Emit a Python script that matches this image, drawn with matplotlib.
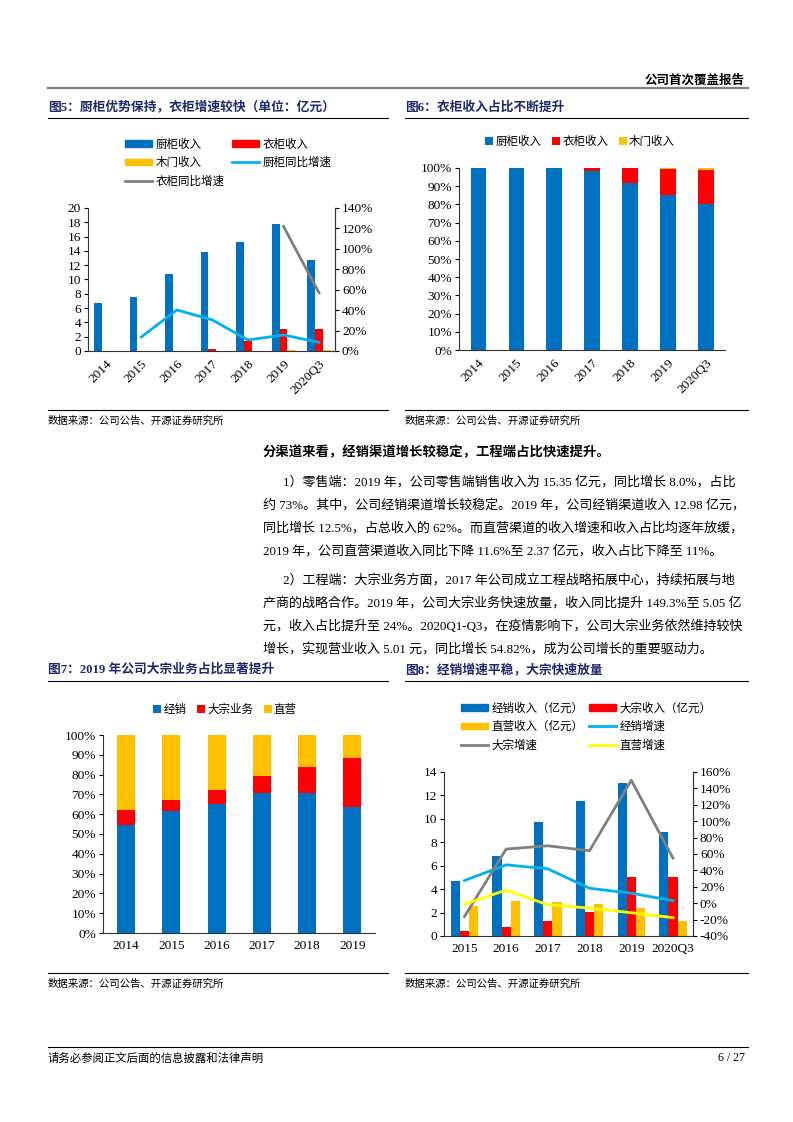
import numpy as np
import matplotlib.pyplot as plt
from matplotlib.patches import Patch
from matplotlib.lines import Line2D
from matplotlib.ticker import FuncFormatter

plt.rcParams['font.family'] = ['Liberation Serif', 'Noto Sans CJK SC']
plt.rcParams['axes.unicode_minus'] = False

# ---- data ----
years5 = ['2014', '2015', '2016', '2017', '2018', '2019', '2020Q3']
kitchen_rev = [6.7, 7.6, 10.75, 13.8, 15.3, 17.8, 12.7]
wardrobe_rev = [0.0, 0.0, 0.05, 0.28, 1.4, 3.05, 3.05]
door_rev = [0.0, 0.0, 0.0, 0.0, 0.05, 0.1, 0.15]
kitchen_growth = [np.nan, 13.7, 40.2, 30.4, 10.8, 15.7, 8.5]
wardrobe_growth = [np.nan, np.nan, np.nan, np.nan, np.nan, 122.0, 57.0]

kitchen_share = [100, 100, 99.9, 98.5, 91.8, 85.2, 80.0]
wardrobe_share = [0, 0, 0.1, 1.5, 8.2, 14.4, 19.1]
door_share = [0, 0, 0, 0, 0, 0.4, 0.9]

years7 = ['2014', '2015', '2016', '2017', '2018', '2019']
dealer_share = [54.4, 61.5, 65.4, 70.6, 70.9, 63.7]
bulk_share = [7.8, 5.6, 6.9, 8.8, 12.7, 24.6]
direct_share = [37.8, 32.9, 27.7, 20.6, 16.4, 11.7]

years8 = ['2015', '2016', '2017', '2018', '2019', '2020Q3']
dealer_rev = [4.7, 6.84, 9.72, 11.55, 13.03, 8.84]
bulk_rev = [0.43, 0.74, 1.25, 2.02, 5.07, 5.05]
direct_rev = [2.54, 2.97, 2.91, 2.71, 2.4, 1.25]
dealer_growth = [27.6, 46.8, 41.9, 18.2, 12.2, 3.0]
bulk_growth = [-16.4, 66.0, 70.0, 64.0, 150.0, 55.0]
direct_growth = [-1.3, 16.0, -2.0, -6.0, -11.6, -17.6]

BLUE, RED, YELLOW = '#0070C0', '#FF0000', '#FFC000'
CYAN, GRAY, LYELLOW = '#00B0F0', '#808080', '#FFFF00'
NAVY = '#1F2A6B'

W, H = 793, 1122
fig = plt.figure(figsize=(W / 100, H / 100), dpi=100)


def rect(l, t, r, b):
    return [l / W, 1 - b / H, (r - l) / W, (b - t) / H]


pct = FuncFormatter(lambda v, p: f'{v:.0f}%')
TICK = 9.6
LEG = 8.3


def style(ax, right=False):
    ax.spines['top'].set_visible(False)
    ax.spines['right'].set_visible(right)
    for s in ax.spines.values():
        s.set_linewidth(0.8)
        s.set_color('#333333')
    ax.tick_params(axis='y', labelsize=TICK, length=3, width=0.8, direction='out', pad=2)
    ax.tick_params(axis='x', labelsize=TICK, length=0, pad=5)


# ---- page furniture ----
pg = fig.add_axes([0, 0, 1, 1], zorder=-1)
pg.set_xlim(0, W)
pg.set_ylim(H, 0)
pg.axis('off')

pg.text(745, 80, '公司首次覆盖报告', ha='right', va='center', fontsize=9, fontweight='bold')
pg.plot([48, 748], [88, 88], color='#808080', lw=1.6)

pg.text(48, 107, '图5：厨柜优势保持，衣柜增速较快（单位：亿元）', va='center', fontsize=9.2,
        fontweight='bold', color=NAVY)
pg.text(405, 107, '图6：衣柜收入占比不断提升', va='center', fontsize=9.2, fontweight='bold', color=NAVY)
pg.plot([48, 388], [118, 118], color='black', lw=0.8)
pg.plot([405, 748], [118, 118], color='black', lw=0.8)
pg.plot([48, 388], [410, 410], color='black', lw=0.8)
pg.plot([405, 748], [410, 410], color='black', lw=0.8)
pg.text(48, 421, '数据来源：公司公告、开源证券研究所', va='center', fontsize=7.5)
pg.text(405, 421, '数据来源：公司公告、开源证券研究所', va='center', fontsize=7.5)

pg.text(263, 452, '分渠道来看，经销渠道增长较稳定，工程端占比快速提升。', va='center',
        fontsize=9.6, fontweight='bold')
body = [
    (283, 482, '1）零售端：2019 年，公司零售端销售收入为 15.35 亿元，同比增长 8.0%，占比'),
    (263, 505, '约 73%。其中，公司经销渠道增长较稳定。2019 年，公司经销渠道收入 12.98 亿元，'),
    (263, 528, '同比增长 12.5%，占总收入的 62%。而直营渠道的收入增速和收入占比均逐年放缓，'),
    (263, 551, '2019 年，公司直营渠道收入同比下降 11.6%至 2.37 亿元，收入占比下降至 11%。'),
    (283, 580, '2）工程端：大宗业务方面，2017 年公司成立工程战略拓展中心，持续拓展与地'),
    (263, 603, '产商的战略合作。2019 年，公司大宗业务快速放量，收入同比提升 149.3%至 5.05 亿'),
    (263, 626, '元，收入占比提升至 24%。2020Q1-Q3，在疫情影响下，公司大宗业务依然维持较快'),
    (263, 649, '增长，实现营业收入 5.01 元，同比增长 54.82%，成为公司增长的重要驱动力。'),
]
for bx, by, s in body:
    pg.text(bx, by, s, va='center', fontsize=9.4)

pg.text(48, 670, '图7：2019 年公司大宗业务占比显著提升', va='center', fontsize=9.2,
        fontweight='bold', color=NAVY)
pg.text(405, 670, '图8：经销增速平稳，大宗快速放量', va='center', fontsize=9.2,
        fontweight='bold', color=NAVY)
pg.plot([48, 388], [681, 681], color='black', lw=0.8)
pg.plot([405, 748], [681, 681], color='black', lw=0.8)
pg.plot([48, 388], [973, 973], color='black', lw=0.8)
pg.plot([405, 748], [973, 973], color='black', lw=0.8)
pg.text(48, 984, '数据来源：公司公告、开源证券研究所', va='center', fontsize=7.5)
pg.text(405, 984, '数据来源：公司公告、开源证券研究所', va='center', fontsize=7.5)

pg.plot([48, 748], [1047, 1047], color='black', lw=0.8)
pg.text(48, 1058, '请务必参阅正文后面的信息披露和法律声明', va='center', fontsize=8.2)
pg.text(745, 1058, '6 / 27', ha='right', va='center', fontsize=8.6)

# ---- Figure 5 ----
ax1 = fig.add_axes(rect(88, 208, 335, 351))
x = np.arange(len(years5))
w = 0.22
ax1.bar(x - w, kitchen_rev, w, color=BLUE, label='厨柜收入')
ax1.bar(x, wardrobe_rev, w, color=RED, label='衣柜收入')
ax1.bar(x + w, door_rev, w, color=YELLOW, label='木门收入')
ax1.set_xlim(-0.5, 6.45)
ax1.set_ylim(0, 20)
ax1.set_yticks(np.arange(0, 21, 2))
ax1.set_xticks(x)
ax1.set_xticklabels(years5, rotation=45, ha='right', rotation_mode='anchor')
style(ax1, right=True)
ax1b = ax1.twinx()
ax1b.plot(x, kitchen_growth, color=CYAN, lw=2)
ax1b.plot(x, wardrobe_growth, color=GRAY, lw=2)
ax1b.set_ylim(0, 140)
ax1b.set_yticks(np.arange(0, 141, 20))
ax1b.yaxis.set_major_formatter(pct)
style(ax1b, right=True)
ax1b.spines['left'].set_visible(False)
ax1b.spines['bottom'].set_visible(False)

h1 = [Patch(color=BLUE), Patch(color=YELLOW), Line2D([], [], color=GRAY, lw=2),
      Patch(color=RED), Line2D([], [], color=CYAN, lw=2)]
l1 = ['厨柜收入', '木门收入', '衣柜同比增速', '衣柜收入', '厨柜同比增速']
fig.legend(h1, l1, ncol=2, loc='upper left', bbox_to_anchor=(119 / W, 1 - 133 / H),
           frameon=False, fontsize=LEG, handlelength=2.4, handleheight=0.55,
           columnspacing=0.6, labelspacing=0.55, handletextpad=0.3, borderpad=0)

# ---- Figure 6 ----
ax2 = fig.add_axes(rect(459, 168, 725, 350))
ax2.bar(x, kitchen_share, 0.41, color=BLUE, label='厨柜收入')
ax2.bar(x, wardrobe_share, 0.41, bottom=kitchen_share, color=RED, label='衣柜收入')
ax2.bar(x, door_share, 0.41, bottom=np.add(kitchen_share, wardrobe_share), color=YELLOW,
        label='木门收入')
ax2.set_xlim(-0.51, 6.5)
ax2.set_ylim(0, 100)
ax2.set_yticks(np.arange(0, 101, 10))
ax2.yaxis.set_major_formatter(pct)
ax2.set_xticks(x)
ax2.set_xticklabels(years5, rotation=45, ha='right', rotation_mode='anchor')
style(ax2)
ax2.legend(ncol=3, loc='center', bbox_to_anchor=(580 / W, 1 - 142 / H),
           bbox_transform=fig.transFigure, frameon=False, fontsize=LEG,
           handlelength=0.7, handleheight=0.7, handletextpad=0.2, columnspacing=0.9)

# ---- Figure 7 ----
ax3 = fig.add_axes(rect(103, 735, 375, 933))
x7 = np.arange(len(years7))
ax3.bar(x7, dealer_share, 0.4, color=BLUE, label='经销')
ax3.bar(x7, bulk_share, 0.4, bottom=dealer_share, color=RED, label='大宗业务')
ax3.bar(x7, direct_share, 0.4, bottom=np.add(dealer_share, bulk_share), color=YELLOW,
        label='直营')
ax3.set_xlim(-0.51, 5.5)
ax3.set_ylim(0, 100)
ax3.set_yticks(np.arange(0, 101, 10))
ax3.yaxis.set_major_formatter(pct)
ax3.set_xticks(x7)
ax3.set_xticklabels(years7)
style(ax3)
ax3.legend(ncol=3, loc='center', bbox_to_anchor=(225 / W, 1 - 710 / H),
           bbox_transform=fig.transFigure, frameon=False, fontsize=LEG,
           handlelength=0.7, handleheight=0.7, handletextpad=0.2, columnspacing=0.9)

# ---- Figure 8 ----
ax4 = fig.add_axes(rect(444, 772, 693, 936))
x8 = np.arange(len(years8))
ax4.bar(x8 - w, dealer_rev, w, color=BLUE)
ax4.bar(x8, bulk_rev, w, color=RED)
ax4.bar(x8 + w, direct_rev, w, color=YELLOW)
ax4.set_xlim(-0.49, 5.48)
ax4.set_ylim(0, 14)
ax4.set_yticks(np.arange(0, 15, 2))
ax4.set_xticks(x8)
ax4.set_xticklabels(years8)
style(ax4, right=True)
ax4b = ax4.twinx()
ax4b.plot(x8, dealer_growth, color=CYAN, lw=2)
ax4b.plot(x8, bulk_growth, color=GRAY, lw=2)
ax4b.plot(x8, direct_growth, color=LYELLOW, lw=2)
ax4b.set_ylim(-40, 160)
ax4b.set_yticks(np.arange(-40, 161, 20))
ax4b.yaxis.set_major_formatter(pct)
style(ax4b, right=True)
ax4b.spines['left'].set_visible(False)
ax4b.spines['bottom'].set_visible(False)

h4 = [Patch(color=BLUE), Patch(color=YELLOW), Line2D([], [], color=GRAY, lw=2),
      Patch(color=RED), Line2D([], [], color=CYAN, lw=2), Line2D([], [], color=LYELLOW, lw=2)]
l4 = ['经销收入（亿元）', '直营收入（亿元）', '大宗增速', '大宗收入（亿元）', '经销增速', '直营增速']
fig.legend(h4, l4, ncol=2, loc='upper left', bbox_to_anchor=(455 / W, 1 - 697 / H),
           frameon=False, fontsize=LEG, handlelength=2.4, handleheight=0.55,
           columnspacing=0.4, labelspacing=0.55, handletextpad=0.3, borderpad=0)

fig.savefig('out.png', dpi=100)
